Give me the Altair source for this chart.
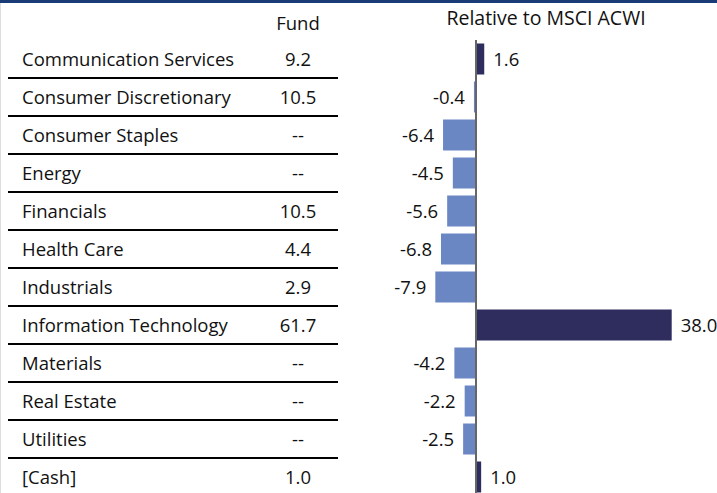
import altair as alt
import pandas as pd

categories = [
    "Communication Services", "Consumer Discretionary", "Consumer Staples", "Energy",
    "Financials", "Health Care", "Industrials", "Information Technology",
    "Materials", "Real Estate", "Utilities", "[Cash]",
]
fund = ["9.2", "10.5", "--", "--", "10.5", "4.4", "2.9", "61.7", "--", "--", "--", "1.0"]
relative = [1.6, -0.4, -6.4, -4.5, -5.6, -6.8, -7.9, 38.0, -4.2, -2.2, -2.5, 1.0]

df = pd.DataFrame({"cat": categories, "fund": fund, "rel": relative})
df["sign"] = ["pos" if v >= 0 else "neg" for v in relative]
df["sep"] = [i < len(categories) - 1 for i in range(len(categories))]
df["lbl"] = [f"{v:.1f}" for v in relative]

FONT = "Open Sans"
FS = 18.5
TXT = "#111111"

yscale = alt.Scale(domain=categories, range=[40, 496], paddingInner=0, paddingOuter=0)
xscale = alt.Scale(domain=[-10, 40], range=[424.5, 682], zero=False, nice=False)

base = alt.Chart(df)

y_enc = alt.Y("cat:N", scale=yscale, axis=None, sort=categories)

band = alt.Chart(pd.DataFrame({"a": [1]})).mark_rect(color="#1B3A78").encode(
    x=alt.value(0), x2=alt.value(717), y=alt.value(0), y2=alt.value(3)
)

seps = base.transform_filter("datum.sep").mark_rule(color="#000000", strokeWidth=2).encode(
    y=alt.Y("cat:N", scale=yscale, axis=None, sort=categories, bandPosition=1),
    x=alt.value(8), x2=alt.value(338),
)

cat_text = base.mark_text(align="left", baseline="middle", dy=1, font=FONT, fontSize=FS, color=TXT).encode(
    y=y_enc, x=alt.value(22), text="cat:N"
)

fund_text = base.mark_text(align="center", baseline="middle", dy=1, font=FONT, fontSize=FS, color=TXT).encode(
    y=y_enc, x=alt.value(298), text="fund:N"
)

bars = base.mark_bar(size=31).encode(
    y=y_enc,
    x=alt.X("rel:Q", scale=xscale, axis=None),
    x2=alt.datum(0),
    color=alt.Color("sign:N", scale=alt.Scale(domain=["pos", "neg"], range=["#2F2D5E", "#6B87C3"]), legend=None),
)

zero_line = alt.Chart(pd.DataFrame({"z": [0]})).mark_rule(color="#666666", strokeWidth=2).encode(
    x=alt.X("z:Q", scale=xscale, axis=None), y=alt.value(40), y2=alt.value(493)
)

pos_labels = base.transform_filter("datum.rel >= 0").mark_text(
    align="left", baseline="middle", dx=9, dy=1, font=FONT, fontSize=FS, color=TXT
).encode(y=y_enc, x=alt.X("rel:Q", scale=xscale, axis=None), text="lbl:N")

neg_labels = base.transform_filter("datum.rel < 0").mark_text(
    align="right", baseline="middle", dx=-9, dy=1, font=FONT, fontSize=FS, color=TXT
).encode(y=y_enc, x=alt.X("rel:Q", scale=xscale, axis=None), text="lbl:N")

fund_hdr = alt.Chart(pd.DataFrame({"t": ["Fund"]})).mark_text(
    align="center", baseline="middle", font=FONT, fontSize=FS, color=TXT
).encode(x=alt.value(298), y=alt.value(24), text="t:N")
rel_hdr = alt.Chart(pd.DataFrame({"t": ["Relative to MSCI ACWI"]})).mark_text(
    align="center", baseline="middle", font=FONT, fontSize=19.5, color=TXT
).encode(x=alt.value(546), y=alt.value(19), text="t:N")

chart = alt.layer(
    band, seps, cat_text, fund_text, bars, zero_line, pos_labels, neg_labels, fund_hdr, rel_hdr
).properties(
    width=717, height=493, padding=0,
    autosize=alt.AutoSizeParams(type="none"),
).configure_view(stroke=None).configure(background="white")

chart.save("out.html", embed_options={"renderer": "svg", "actions": False})
